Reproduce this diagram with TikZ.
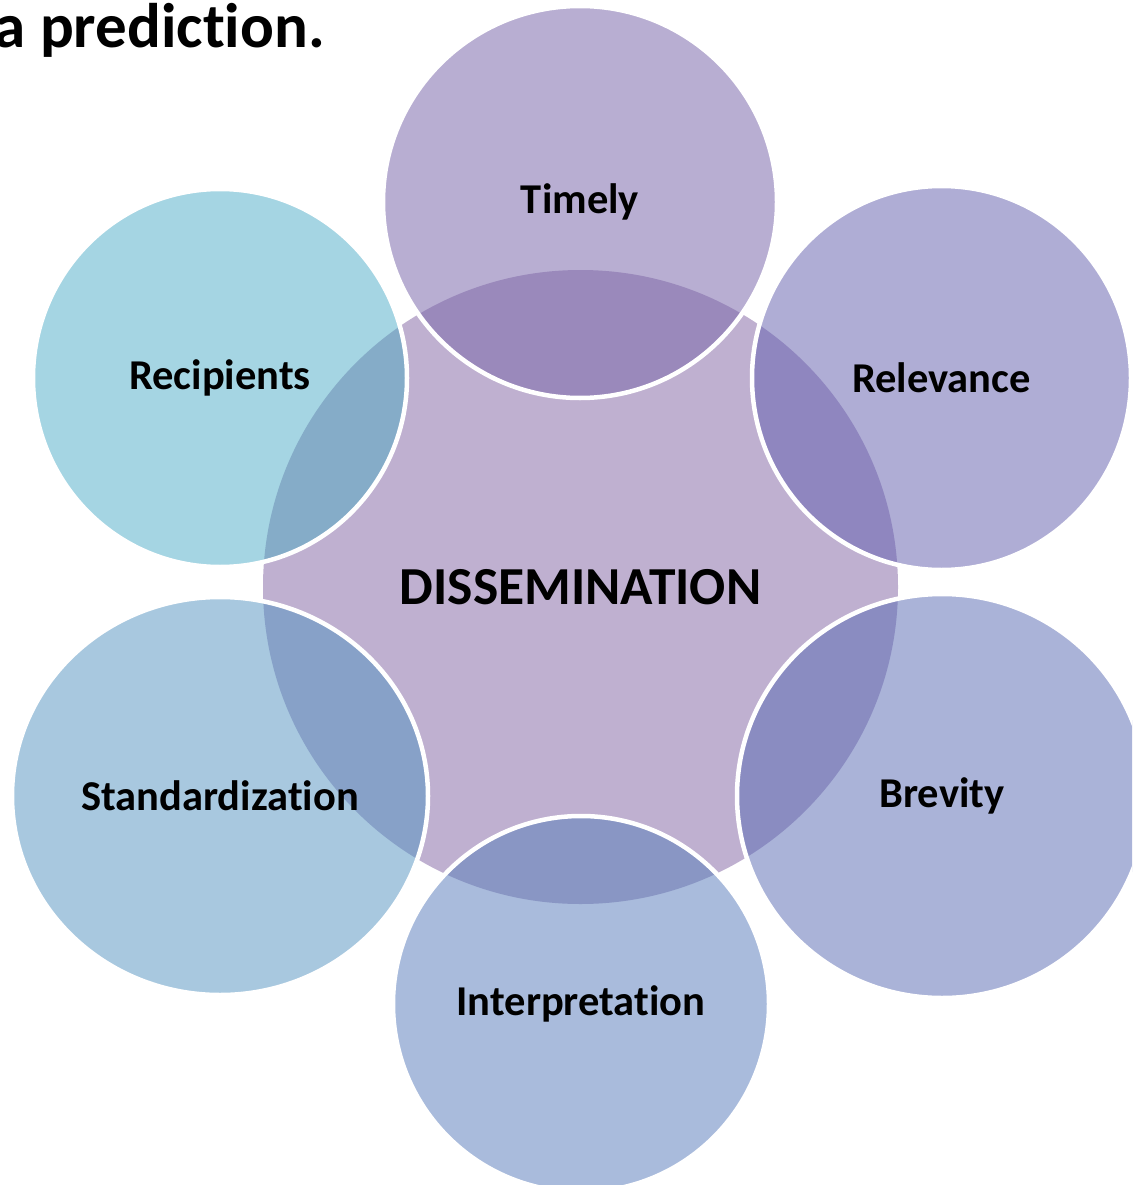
\documentclass[tikz,border=0pt]{standalone}
\usepackage{fontspec}
\setmainfont[Ligatures={NoCommon}]{Carlito}
\usetikzlibrary{shapes.geometric}
\definecolor{cenC}{HTML}{BFB0D0}
\definecolor{timC}{HTML}{B8AED2}\definecolor{timO}{HTML}{9A89BB}
\definecolor{relC}{HTML}{AFADD5}\definecolor{relO}{HTML}{8F86BF}
\definecolor{breC}{HTML}{AAB3D8}\definecolor{breO}{HTML}{8A8CC1}
\definecolor{intC}{HTML}{A9BBDC}\definecolor{intO}{HTML}{8996C4}
\definecolor{staC}{HTML}{A8C8DF}\definecolor{staO}{HTML}{87A1C8}
\definecolor{recC}{HTML}{A5D5E3}\definecolor{recO}{HTML}{85ACC8}
\tikzset{
  bub/.style={ellipse, draw=white, line width=4.5pt, inner sep=0pt,
    font=\bfseries\fontsize{42.5}{48}\selectfont, text=black},
  hub/.style={ellipse, fill=cenC, inner sep=0pt,
    font=\bfseries\fontsize{53.5}{60}\selectfont, text=black},
}
% #1 name, #2 centre, #3 rx, #4 ry, #5 fill, #6 overlap, #7 text
\newcommand{\mybubble}[7]{%
  \fill[#5] #2 ellipse [x radius=#3pt, y radius=#4pt];
  \begin{scope}
    \clip (dis.center) ellipse [x radius=317.5pt, y radius=317pt];
    \fill[#6] #2 ellipse [x radius=#3pt, y radius=#4pt];
  \end{scope}
  \node[bub, minimum width=2*#3pt, minimum height=2*#4pt] (#1) at #2 {#7};
}
\begin{document}
\begin{tikzpicture}[x=1pt, y=-1pt]
\useasboundingbox (0,0) rectangle (1132,1185);
\clip (0,0) rectangle (1132,1185);
\node[hub, minimum width=635pt, minimum height=634pt] (dis) at (580.5,587) {DISSEMINATION};
\mybubble{timely}{(580,202)}{197}{196}{timC}{timO}{Timely}
\mybubble{relevance}{(941.5,378)}{189.5}{192}{relC}{relO}{Relevance}
\mybubble{brevity}{(942,796)}{205}{202}{breC}{breO}{Brevity}
\mybubble{interp}{(581,1004)}{188}{188}{intC}{intO}{Interpretation}
\mybubble{standard}{(220,796)}{208}{199}{staC}{staO}{Standardization}
\mybubble{recip}{(220,378)}{187}{189}{recC}{recO}{Recipients}
\node[anchor=base east, inner sep=0pt, font=\bfseries\fontsize{63}{70}\selectfont] (title) at (325,48) {a prediction.};
\end{tikzpicture}
\end{document}
